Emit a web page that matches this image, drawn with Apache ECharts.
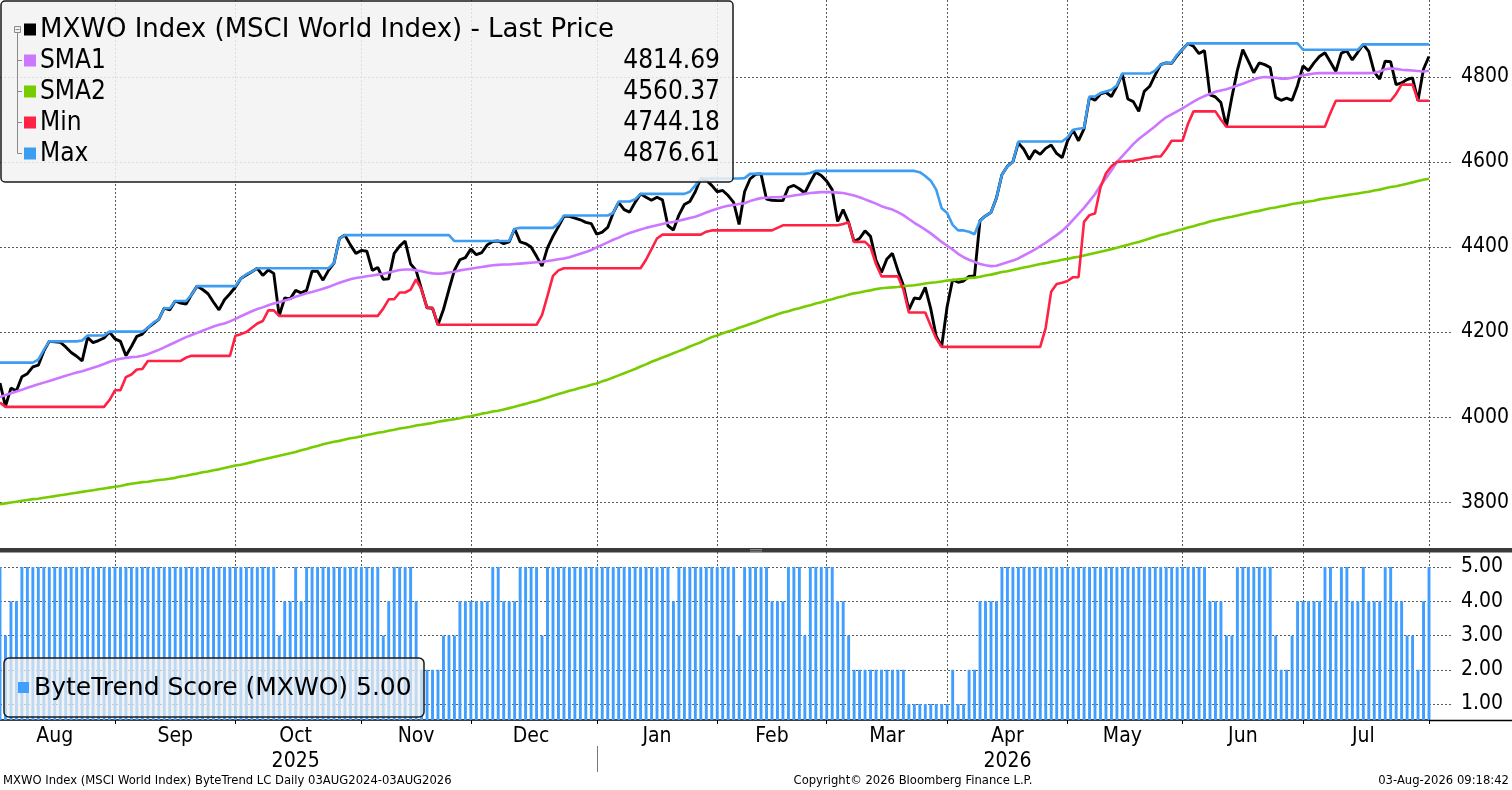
<!DOCTYPE html>
<html>
<head>
<meta charset="utf-8">
<script src="https://cdn.jsdelivr.net/npm/echarts@6/dist/echarts.min.js"></script>
<style>
html,body{margin:0;padding:0;background:#fff;overflow:hidden;}
#c{width:1512px;height:790px;}
</style>
</head>
<body>
<div id="c"></div>
<script>
// ---------------- DATA (one value per trading day, 01 Aug 2025 .. 03 Aug 2026) ----------------
const price = [
4080,4025,4068,4062,4095,4102,4118,4122,4155,4178,
4177,4176,4165,4152,4143,4132,4187,4175,4180,4186,
4200,4184,4178,4144,4166,4190,4195,4210,4220,4230,
4256,4252,4273,4268,4266,4288,4308,4300,4290,4270,
4252,4276,4290,4306,4326,4334,4342,4350,4333,4346,
4338,4238,4280,4278,4298,4292,4298,4343,4343,4322,
4345,4362,4420,4428,4405,4385,4392,4390,4345,4352,
4324,4325,4385,4402,4414,4360,4345,4300,4257,4256,
4217,4253,4300,4345,4370,4375,4395,4382,4387,4405,
4413,4414,4408,4412,4443,4412,4408,4400,4378,4355,
4398,4425,4448,4472,4472,4468,4464,4458,4455,4430,
4435,4446,4480,4505,4488,4482,4505,4525,4517,4510,
4517,4511,4450,4440,4475,4500,4507,4530,4561,4557,
4545,4530,4533,4521,4505,4453,4530,4560,4571,4572,
4513,4510,4509,4509,4540,4545,4537,4527,4553,4576,
4568,4555,4535,4460,4488,4458,4413,4420,4438,4425,
4369,4340,4372,4385,4345,4310,4252,4280,4278,4305,
4255,4190,4166,4260,4323,4317,4320,4331,4332,4462,
4473,4481,4515,4570,4590,4600,4645,4630,4606,4627,
4618,4632,4640,4620,4610,4650,4675,4650,4678,4752,
4745,4760,4764,4754,4778,4807,4748,4742,4719,4766,
4778,4805,4829,4833,4832,4850,4865,4879,4872,4855,
4862,4758,4753,4740,4683,4752,4815,4864,4838,4810,
4833,4829,4822,4752,4745,4750,4745,4780,4826,4815,
4833,4848,4857,4835,4813,4856,4861,4840,4858,4876.6,
4860,4812,4795,4837,4836,4782,4786,4794,4798,4744.2,
4818,4848];

const sma1 = [
4047,4052,4056,4060,4064,4069,4073,4077,4081,4085,
4089,4093,4097,4101,4105,4108,4112,4116,4120,4125,
4130,4134,4137,4139,4141,4142,4144,4148,4153,4158,
4164,4170,4176,4182,4188,4193,4198,4203,4208,4213,
4217,4220,4225,4231,4237,4243,4249,4254,4258,4263,
4267,4270,4274,4278,4283,4287,4291,4294,4298,4302,
4306,4311,4316,4320,4324,4327,4329,4331,4333,4335,
4337,4340,4343,4346,4347,4347,4345,4343,4340,4338,
4337,4338,4340,4342,4345,4347,4349,4351,4353,4355,
4357,4358,4359,4359,4360,4361,4362,4363,4364,4365,
4367,4369,4371,4373,4376,4380,4384,4388,4393,4399,
4405,4411,4417,4422,4428,4433,4437,4441,4445,4448,
4451,4454,4457,4459,4462,4465,4468,4471,4476,4481,
4486,4490,4494,4497,4499,4501,4503,4508,4512,4515,
4516,4517,4517,4518,4519,4521,4523,4525,4527,4528,
4529,4529,4529,4528,4527,4524,4521,4517,4512,4507,
4502,4496,4492,4488,4482,4475,4466,4457,4449,4441,
4432,4422,4412,4403,4394,4384,4376,4370,4365,4360,
4357,4355,4356,4360,4364,4368,4373,4380,4387,4394,
4402,4410,4419,4428,4438,4450,4464,4478,4492,4508,
4524,4545,4562,4580,4600,4614,4628,4642,4654,4664,
4674,4684,4695,4705,4712,4719,4726,4734,4742,4749,
4755,4760,4765,4768,4771,4775,4780,4784,4789,4794,
4798,4800,4799,4798,4796,4796,4798,4801,4804,4806,
4808,4809,4809,4809,4809,4809,4809,4809,4809,4809,
4809,4810,4813,4818,4820,4819,4817,4816,4815,4814,
4813,4814.69];

const sma2 = [
3795,3797,3799,3801,3803,3805,3807,3808,3810,3812,
3814,3816,3818,3820,3822,3824,3826,3828,3830,3832,
3834,3836,3838,3841,3843,3845,3847,3848,3850,3852,
3853,3855,3857,3860,3862,3865,3867,3870,3872,3875,
3877,3880,3883,3886,3888,3891,3894,3897,3900,3903,
3906,3909,3912,3915,3918,3922,3925,3929,3932,3936,
3939,3942,3944,3947,3950,3952,3955,3958,3960,3963,
3965,3968,3970,3973,3975,3977,3980,3982,3984,3986,
3989,3991,3993,3995,3997,4000,4002,4005,4008,4010,
4013,4015,4018,4021,4024,4028,4031,4035,4038,4042,
4046,4050,4054,4058,4062,4065,4069,4072,4076,4079,
4084,4088,4093,4098,4103,4108,4113,4119,4124,4130,
4135,4140,4145,4150,4155,4160,4166,4171,4176,4182,
4188,4192,4197,4201,4205,4210,4214,4219,4223,4228,
4233,4237,4242,4246,4249,4253,4256,4260,4263,4267,
4270,4274,4277,4281,4284,4288,4291,4293,4296,4298,
4301,4303,4304,4305,4306,4308,4309,4310,4312,4314,
4316,4317,4319,4321,4322,4324,4325,4327,4328,4330,
4333,4335,4338,4341,4343,4346,4349,4352,4354,4357,
4360,4362,4365,4367,4370,4372,4375,4377,4380,4383,
4386,4389,4392,4395,4398,4402,4405,4409,4412,4416,
4420,4424,4428,4431,4435,4439,4442,4446,4449,4453,
4456,4460,4463,4466,4469,4471,4474,4477,4480,4483,
4485,4488,4491,4493,4496,4498,4501,4503,4505,4507,
4509,4512,4514,4516,4518,4520,4522,4524,4526,4528,
4530,4533,4535,4538,4541,4543,4546,4549,4552,4555,
4558,4560.37];

const minv = [
4034,4024,4024,4024,4024,4024,4024,4024,4024,4024,
4024,4024,4024,4024,4024,4024,4024,4024,4024,4024,
4040,4063,4063,4094,4100,4112,4113,4132,4132,4132,
4132,4132,4132,4132,4140,4144,4144,4144,4144,4144,
4144,4144,4144,4191,4195,4200,4210,4220,4226,4251,
4251,4238,4238,4238,4238,4238,4238,4238,4238,4238,
4238,4238,4238,4238,4238,4238,4238,4238,4238,4238,
4255,4277,4277,4293,4293,4300,4324,4300,4257,4257,
4217,4217,4217,4217,4217,4217,4217,4217,4217,4217,
4217,4217,4217,4217,4217,4217,4217,4217,4217,4240,
4285,4332,4345,4350,4350,4350,4350,4350,4350,4350,
4350,4350,4350,4350,4350,4350,4350,4350,4370,4395,
4420,4429,4429,4429,4429,4429,4429,4429,4429,4436,
4439,4439,4439,4439,4439,4439,4439,4439,4439,4439,
4439,4439,4445,4451,4451,4451,4451,4451,4451,4451,
4451,4451,4451,4451,4454,4458,4412,4412,4412,4400,
4360,4331,4331,4331,4331,4300,4246,4246,4246,4246,
4215,4185,4165,4165,4165,4165,4165,4165,4165,4165,
4165,4165,4165,4165,4165,4165,4165,4165,4165,4165,
4165,4210,4295,4313,4316,4320,4329,4329,4459,4475,
4479,4540,4573,4590,4600,4601,4602,4603,4606,4608,
4610,4613,4613,4630,4650,4650,4650,4690,4719,4719,
4719,4719,4719,4700,4683,4683,4683,4683,4683,4683,
4683,4683,4683,4683,4683,4683,4683,4683,4683,4683,
4683,4683,4683,4715,4744,4744,4744,4744,4744,4744,
4744,4744,4744,4744,4744,4760,4782,4782,4782,4744.18,
4744.18,4744.18];

const maxv = [
4128,4128,4128,4128,4128,4128,4128,4135,4158,4178,
4178,4178,4178,4178,4178,4180,4192,4192,4192,4192,
4201,4201,4201,4201,4201,4201,4201,4210,4222,4230,
4256,4256,4273,4273,4273,4288,4308,4308,4308,4308,
4308,4308,4308,4308,4326,4336,4342,4350,4350,4350,
4350,4350,4350,4350,4350,4350,4350,4350,4350,4350,
4350,4362,4420,4428,4428,4428,4428,4428,4428,4428,
4428,4428,4428,4428,4428,4428,4428,4428,4428,4428,
4428,4428,4428,4414,4414,4414,4414,4414,4414,4414,
4414,4414,4414,4414,4443,4445,4445,4445,4445,4445,
4445,4445,4455,4474,4474,4474,4474,4474,4474,4474,
4474,4474,4480,4507,4507,4507,4512,4525,4525,4525,
4525,4525,4525,4525,4525,4525,4530,4545,4561,4561,
4561,4561,4561,4561,4561,4561,4562,4572,4572,4572,
4572,4572,4572,4572,4572,4572,4572,4572,4574,4579,
4579,4579,4579,4579,4579,4579,4579,4579,4579,4579,
4579,4579,4579,4579,4579,4579,4579,4579,4576,4567,
4556,4535,4491,4480,4452,4439,4439,4436,4430,4462,
4473,4481,4515,4570,4590,4600,4648,4648,4648,4648,
4648,4648,4648,4648,4648,4658,4676,4678,4680,4754,
4754,4762,4766,4770,4780,4808,4808,4808,4808,4808,
4808,4815,4829,4833,4833,4852,4865,4879,4879,4879,
4879,4879,4879,4879,4879,4879,4879,4879,4879,4879,
4879,4879,4879,4879,4879,4879,4879,4879,4864,4864,
4864,4864,4864,4864,4864,4864,4864,4864,4864,4876.61,
4876.61,4876.61,4876.61,4876.61,4876.61,4876.61,4876.61,4876.61,4876.61,4876.61,
4876.61,4876.61];

const score = [
5,3,4,4,5,5,5,5,5,5,
5,5,5,5,5,5,5,5,5,5,
5,5,5,5,5,5,5,5,5,5,
5,5,5,5,5,5,5,5,5,5,
5,5,5,5,5,5,5,5,5,5,
5,3,4,4,5,4,5,5,5,5,
5,5,5,5,5,5,5,5,5,5,
3,4,5,5,5,5,4,2,2,2,
2,3,3,3,4,4,4,4,4,4,
5,5,4,4,4,5,5,5,5,3,
5,5,5,5,5,5,5,5,5,5,
5,5,5,5,5,5,5,5,5,5,
5,5,5,4,5,5,5,5,5,5,
5,5,5,5,5,3,5,5,5,5,
5,4,4,4,5,5,5,3,5,5,
5,5,5,4,4,3,2,2,2,2,
2,2,2,2,2,2,1,1,1,1,
1,1,1,1,2,1,1,2,2,4,
4,4,4,5,5,5,5,5,5,5,
5,5,5,5,5,5,5,5,5,5,
5,5,5,5,5,5,5,5,5,5,
5,5,5,5,5,5,5,5,5,5,
5,4,4,4,3,3,5,5,5,5,
5,5,5,3,2,2,3,4,4,4,
4,4,5,5,4,5,5,4,4,5,
4,4,4,5,5,4,4,3,3,2,
4,5];

const monthNames = ['Jan','Feb','Mar','Apr','May','Jun','Jul','Aug','Sep','Oct','Nov','Dec'];
const seriesNames = ['MXWO Index (MSCI World Index) - Last Price','SMA1','SMA2','Min','Max'];
const scoreName = 'ByteTrend Score (MXWO)';
const footerLeft = 'MXWO Index (MSCI World Index) ByteTrend LC Daily 03AUG2024-03AUG2026';
const footerMid = 'Copyright\u00A9 2026 Bloomberg Finance L.P.';
const footerRight = '03-Aug-2026 09:18:42';

// ---------------- trading-day categories ----------------
const dates = [];
(function(){
  let t = Date.UTC(2025,7,1);
  const end = Date.UTC(2026,7,3);
  while (t <= end) {
    const d = new Date(t);
    const wd = d.getUTCDay();
    if (wd !== 0 && wd !== 6) dates.push(d.toISOString().slice(0,10));
    t += 86400000;
  }
})();

// month groups -> tick (first day) and label (mid month) positions
const groups = [];
dates.forEach((s,i)=>{
  const m = s.slice(0,7);
  if (!groups.length || groups[groups.length-1].m !== m) groups.push({m:m, s:i, e:i});
  else groups[groups.length-1].e = i;
});
const monthStart = new Set();
const midLabel = {};
const labelled = [];
groups.forEach(g=>{
  if (g.s > 0) monthStart.add(g.s);
  if (g.e - g.s >= 5) {
    const mid = Math.round((g.s + g.e)/2);
    midLabel[mid] = {mon: monthNames[parseInt(g.m.slice(5,7),10)-1], year: g.m.slice(0,4), year2:''};
    labelled.push(mid);
  }
});
const byYear = {};
labelled.forEach(i=>{ const y = midLabel[i].year; (byYear[y] = byYear[y] || []).push(i); });
Object.keys(byYear).forEach(y=>{ const arr = byYear[y]; midLabel[arr[Math.floor((arr.length-1)/2)]].year2 = y; });
const yearStarts = groups.filter((g,i)=> i>0 && g.m.slice(0,4) !== groups[i-1].m.slice(0,4)).map(g=>g.s);

// ---------------- styling ----------------
const FONT = '"DejaVu Sans Condensed","DejaVu Sans",sans-serif';
const FONTW = '"DejaVu Sans",sans-serif';
const C = {price:'#000000', sma1:'#cc77ff', sma2:'#77cc00', min:'#ff2244', max:'#3d9df2', bar:'#3f9eff'};
const GRIDC = '#5a5a5a';
const dashed = {color: GRIDC, type: [2,2], width: 1};
const PLOT_W = 1429;

const chart = echarts.init(document.getElementById('c'), null, {renderer:'canvas'});

function lineSeries(name, data, color, w) {
  return {name:name, type:'line', xAxisIndex:0, yAxisIndex:0, data:data, showSymbol:false, symbol:'none',
    lineStyle:{color:color, width:w}, itemStyle:{color:color}, emphasis:{disabled:true}, silent:true};
}

const last = a => a[a.length-1];
const rowVals = [null, last(sma1), last(sma2), last(minv), last(maxv)];
const rowCols = [C.price, C.sma1, C.sma2, C.min, C.max];

const graphics = [];
graphics.push({type:'rect', id:'lgbox', z:100, shape:{x:1, y:1, width:732, height:181, r:4},
  style:{fill:'rgba(242,242,242,0.86)', stroke:'#1a1a1a', lineWidth:1.5}});
graphics.push({type:'rect', id:'tree0', z:101, shape:{x:14.5, y:26.5, width:6, height:6},
  style:{fill:'#f2f2f2', stroke:'#8a8a8a', lineWidth:1}});
graphics.push({type:'line', id:'tree1', z:101, shape:{x1:15.5, y1:29.5, x2:19.5, y2:29.5}, style:{stroke:'#8a8a8a', lineWidth:1}});
graphics.push({type:'line', id:'tree2', z:101, shape:{x1:17.5, y1:32.5, x2:17.5, y2:153.5}, style:{stroke:'#8a8a8a', lineWidth:1}});
seriesNames.forEach((n,i)=>{
  const cy = 29.5 + i*31;
  if (i>0) graphics.push({type:'line', id:'stub'+i, z:101, shape:{x1:17.5, y1:cy, x2:22, y2:cy}, style:{stroke:'#8a8a8a', lineWidth:1}});
  graphics.push({type:'rect', id:'sq'+i, z:101, shape:{x:24, y:cy-6, width:12, height:12}, style:{fill:rowCols[i]}});
  graphics.push({type:'text', id:'lt'+i, z:101, x:40, y:cy+1, style:{text:n, fill:'#000', font:(i===0 ? '26px '+FONTW : '26px '+FONT), verticalAlign:'middle', align:'left'}});
  if (rowVals[i] !== null) graphics.push({type:'text', id:'lv'+i, z:101, x:720, y:cy+1, style:{text:rowVals[i].toFixed(2), fill:'#000', font:'26px '+FONT, verticalAlign:'middle', align:'right'}});
});
graphics.push({type:'rect', id:'sep', z:90, shape:{x:0, y:548, width:1512, height:4.5}, style:{fill:'#3a3a3a'}});
graphics.push({type:'line', id:'grip1', z:91, shape:{x1:750, y1:549.5, x2:762, y2:549.5}, style:{stroke:'#9a9a9a', lineWidth:0.8}});
graphics.push({type:'line', id:'grip2', z:91, shape:{x1:750, y1:551.2, x2:762, y2:551.2}, style:{stroke:'#9a9a9a', lineWidth:0.8}});
graphics.push({type:'rect', id:'blbox', z:100, shape:{x:4, y:658, width:420, height:59, r:5},
  style:{fill:'rgba(238,238,238,0.72)', stroke:'#1a1a1a', lineWidth:1.5}});
graphics.push({type:'rect', id:'blsq', z:101, shape:{x:18, y:682, width:11, height:11}, style:{fill:C.bar}});
graphics.push({type:'text', id:'blt', z:101, x:34, y:688, style:{text:scoreName+' '+last(score).toFixed(2), fill:'#000', font:'25px '+FONTW, verticalAlign:'middle', align:'left'}});
graphics.push({type:'line', id:'axext', z:50, shape:{x1:PLOT_W, y1:720.5, x2:1512, y2:720.5}, style:{stroke:'#000', lineWidth:1.5}});
graphics.push({type:'text', id:'f1', z:50, x:3, y:781, style:{text:footerLeft, fill:'#000', font:'11.6px '+FONTW, verticalAlign:'middle', align:'left'}});
graphics.push({type:'text', id:'f2', z:50, x:913, y:781, style:{text:footerMid, fill:'#000', font:'11.6px '+FONTW, verticalAlign:'middle', align:'center'}});
graphics.push({type:'text', id:'f3', z:50, x:1509, y:781, style:{text:footerRight, fill:'#000', font:'11.6px '+FONTW, verticalAlign:'middle', align:'right'}});

const option = {
  animation: false,
  backgroundColor: '#ffffff',
  textStyle: {fontFamily: FONT},
  grid: [
    {left:0, top:0, width:PLOT_W, height:548},
    {left:0, top:552, width:PLOT_W, height:168}
  ],
  xAxis: [
    {type:'category', gridIndex:0, data:dates, boundaryGap:false,
     axisLine:{show:false}, axisTick:{show:false}, axisLabel:{show:false},
     splitLine:{show:true, interval:(i)=>monthStart.has(i), lineStyle:dashed}},
    {type:'category', gridIndex:1, data:dates, boundaryGap:false,
     axisLine:{show:true, lineStyle:{color:'#000', width:1.5}},
     axisTick:{show:true, interval:(i)=>monthStart.has(i), length:4, lineStyle:{color:'#000', width:1}},
     axisLabel:{show:true, interval:(i)=>midLabel[i]!==undefined, color:'#000', fontSize:21, lineHeight:25, margin:4, fontFamily:FONT,
       formatter:(v,i)=>{ const L = midLabel[i]; if (!L) return ''; return L.year2 ? L.mon+'\n'+L.year2 : L.mon; }},
     splitLine:{show:true, interval:(i)=>monthStart.has(i), lineStyle:dashed}}
  ],
  yAxis: [
    {type:'value', gridIndex:0, position:'right', min:3692, max:4981, splitNumber:6, scale:true,
     axisLine:{show:false}, axisTick:{show:true, length:22, lineStyle:dashed},
     axisLabel:{margin:32, fontSize:21, color:'#000', fontFamily:FONT, showMinLabel:false, showMaxLabel:false, formatter:(v)=>String(Math.round(v))},
     splitLine:{show:true, showMinLine:false, showMaxLine:false, lineStyle:dashed}},
    {type:'value', gridIndex:1, position:'right', min:0.533, max:5.438, splitNumber:5,
     axisLine:{show:false}, axisTick:{show:true, length:22, lineStyle:dashed},
     axisLabel:{margin:32, fontSize:21, color:'#000', fontFamily:FONT, showMinLabel:false, showMaxLabel:false, formatter:(v)=>v.toFixed(2)},
     splitLine:{show:true, showMinLine:false, showMaxLine:false, lineStyle:dashed}}
  ],
  series: [
    lineSeries(seriesNames[0], price, C.price, 2.9),
    lineSeries(seriesNames[1], sma1, C.sma1, 2.6),
    lineSeries(seriesNames[2], sma2, C.sma2, 2.6),
    lineSeries(seriesNames[3], minv, C.min, 2.6),
    lineSeries(seriesNames[4], maxv, C.max, 2.6),
    {name:scoreName, type:'bar', xAxisIndex:1, yAxisIndex:1, data:score, barWidth:2.9,
     itemStyle:{color:C.bar}, emphasis:{disabled:true}, silent:true}
  ],
  graphic: {elements: graphics}
};
chart.setOption(option);

yearStarts.forEach((idx, k)=>{
  const p = chart.convertToPixel({xAxisIndex:1}, idx);
  graphics.push({type:'line', id:'ysep'+k, z:50, shape:{x1:Math.round(p)+0.5, y1:746, x2:Math.round(p)+0.5, y2:772}, style:{stroke:'#777', lineWidth:1}});
});
chart.setOption({graphic:{elements: graphics}});
</script>
</body>
</html>
